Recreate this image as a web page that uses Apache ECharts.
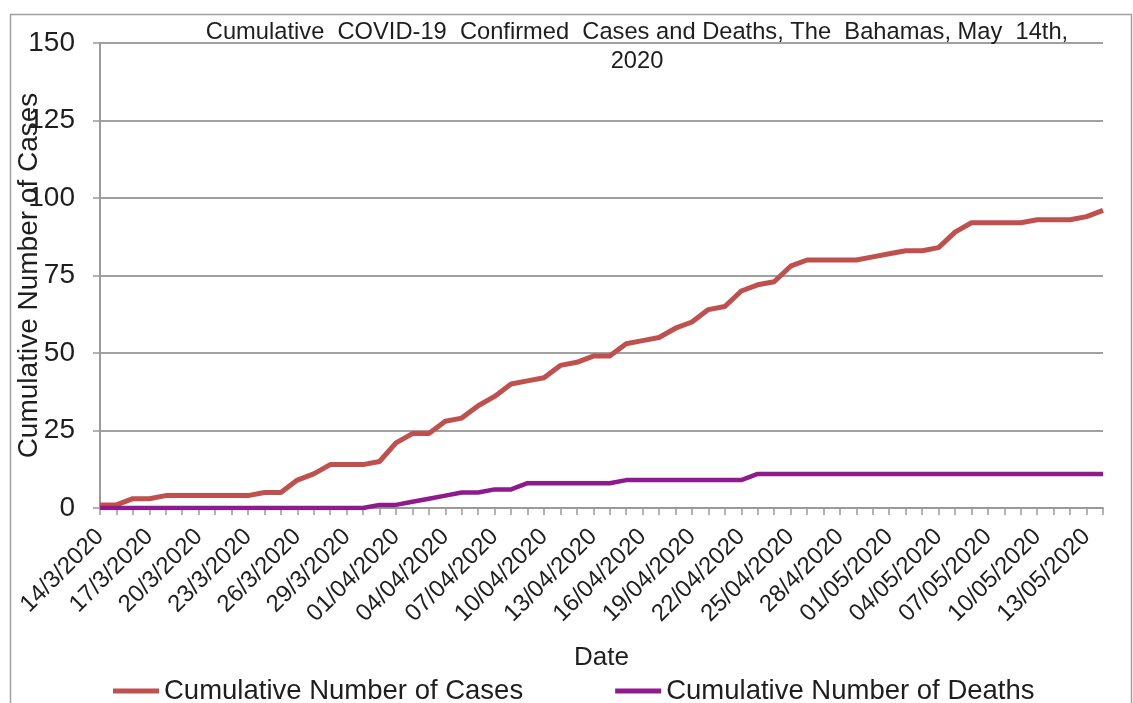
<!DOCTYPE html>
<html>
<head>
<meta charset="utf-8">
<script src="https://cdn.jsdelivr.net/npm/echarts@6/dist/echarts.min.js"></script>
<style>html,body{margin:0;padding:0;background:#fff;}#chart{width:1133px;height:703px;}</style>
</head>
<body>
<div id="chart"></div>
<script>
var dates = [
  '14/3/2020','15/3/2020','16/3/2020','17/3/2020','18/3/2020','19/3/2020','20/3/2020','21/3/2020',
  '22/3/2020','23/3/2020','24/3/2020','25/3/2020','26/3/2020','27/3/2020','28/3/2020','29/3/2020',
  '30/3/2020','31/3/2020','01/04/2020','02/04/2020','03/04/2020','04/04/2020','05/04/2020','06/04/2020',
  '07/04/2020','08/04/2020','09/04/2020','10/04/2020','11/04/2020','12/04/2020','13/04/2020','14/04/2020',
  '15/04/2020','16/04/2020','17/04/2020','18/04/2020','19/04/2020','20/04/2020','21/04/2020','22/04/2020',
  '23/04/2020','24/04/2020','25/04/2020','26/04/2020','27/04/2020','28/4/2020','29/04/2020','30/04/2020',
  '01/05/2020','02/05/2020','03/05/2020','04/05/2020','05/05/2020','06/05/2020','07/05/2020','08/05/2020',
  '09/05/2020','10/05/2020','11/05/2020','12/05/2020','13/05/2020','14/05/2020'
];
var cases = [
  1,1,3,3,4,4,4,4,4,4,5,5,9,11,14,14,14,15,21,24,24,
  28,29,33,36,40,41,42,46,47,49,49,53,54,55,58,
  60,64,65,70,72,73,78,80,80,80,80,81,82,83,83,84,89,92,92,92,92,93,93,93,94,96
];
var deaths = [
  0,0,0,0,0,0,0,0,0,0,0,0,0,0,0,0,0,
  1,1,2,3,4,5,5,6,6,
  8,8,8,8,8,8,
  9,9,9,9,9,9,9,9,
  11,11,11,11,11,11,11,11,11,11,11,11,11,11,11,11,11,11,11,11,11,11
];
var yTicks = [0, 25, 50, 75, 100, 125, 150];
var titleText = 'Cumulative  COVID-19  Confirmed  Cases and Deaths, The  Bahamas, May  14th,\n2020';
var seriesNames = ['Cumulative Number of Cases', 'Cumulative Number of Deaths'];

var FONT = "'Liberation Sans', Arial, sans-serif";
var TXT = '#1e1e1e';
var chart = echarts.init(document.getElementById('chart'));
chart.setOption({
  backgroundColor: '#fff',
  animation: false,
  textStyle: { fontFamily: FONT },
  title: {
    text: titleText,
    left: 632, top: 13, textAlign: 'center',
    textStyle: { fontFamily: FONT, fontSize: 23.7, fontWeight: 'normal', color: TXT, lineHeight: 29 }
  },
  graphic: [{
    type: 'rect', left: 8, top: 12, z: -1,
    shape: { width: 1121, height: 700 },
    style: { fill: 'none', stroke: '#a0a0a0', lineWidth: 1.5 }
  }],
  legend: {
    left: 108, top: 672,
    itemWidth: 46, itemHeight: 5, itemGap: 92, icon: 'rect',
    textStyle: { fontFamily: FONT, fontSize: 27.5, color: TXT },
    data: seriesNames
  },
  grid: { left: 100, right: 30, top: 43, bottom: 195, containLabel: false, outerBoundsMode: 'none' },
  xAxis: {
    type: 'category', data: dates, boundaryGap: false,
    name: 'Date', nameLocation: 'middle', nameGap: 137, nameMoveOverlap: false,
    nameTextStyle: { fontFamily: FONT, fontSize: 26, color: TXT },
    axisLine: { lineStyle: { color: '#9a9a9a', width: 2 } },
    axisTick: { interval: 0, length: 7, lineStyle: { color: '#9a9a9a', width: 1.5 } },
    axisLabel: { interval: 2, rotate: 45, margin: 25, fontSize: 24, color: TXT, fontFamily: FONT },
    splitLine: { show: false }
  },
  yAxis: {
    type: 'value', min: yTicks[0], max: yTicks[yTicks.length - 1], interval: 25,
    name: 'Cumulative Number of Cases', nameLocation: 'middle', nameGap: 57, nameMoveOverlap: false,
    nameTextStyle: { fontFamily: FONT, fontSize: 28, color: TXT },
    axisLine: { show: true, lineStyle: { color: '#9a9a9a', width: 2 } },
    axisTick: { show: true, length: 7, lineStyle: { color: '#9a9a9a', width: 1.5 } },
    axisLabel: { margin: 25, fontSize: 28, color: TXT, fontFamily: FONT },
    splitLine: { show: true, lineStyle: { color: '#a0a0a0', width: 2 } }
  },
  series: [
    { name: seriesNames[0], type: 'line', data: cases, showSymbol: false, symbol: 'none',
      lineStyle: { color: '#C0504D', width: 5 }, itemStyle: { color: '#C0504D' }, z: 3 },
    { name: seriesNames[1], type: 'line', data: deaths, showSymbol: false, symbol: 'none',
      lineStyle: { color: '#8E1A8E', width: 4.5 }, itemStyle: { color: '#8E1A8E' }, z: 4 }
  ]
});
</script>
</body>
</html>
